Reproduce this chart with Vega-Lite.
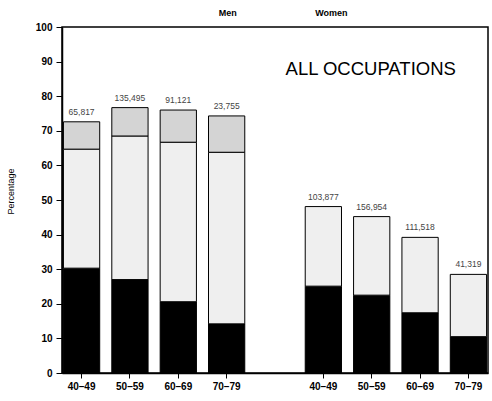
{
  "$schema": "https://vega.github.io/schema/vega-lite/v6.json",
  "autosize": "none",
  "width": 426,
  "height": 346,
  "padding": {"left": 62, "top": 27, "right": 4, "bottom": 28},
  "background": "white",
  "config": {
    "view": {"stroke": "black", "strokeWidth": 1.5}
  },
  "datasets": {
    "bars": [
      {"key": "M 40–49", "sex": "Men", "age": "40–49", "segment": "bottom", "value": 30.3},
      {"key": "M 40–49", "sex": "Men", "age": "40–49", "segment": "middle", "value": 34.4},
      {"key": "M 40–49", "sex": "Men", "age": "40–49", "segment": "top", "value": 7.9},
      {"key": "M 50–59", "sex": "Men", "age": "50–59", "segment": "bottom", "value": 27.0},
      {"key": "M 50–59", "sex": "Men", "age": "50–59", "segment": "middle", "value": 41.5},
      {"key": "M 50–59", "sex": "Men", "age": "50–59", "segment": "top", "value": 8.2},
      {"key": "M 60–69", "sex": "Men", "age": "60–69", "segment": "bottom", "value": 20.6},
      {"key": "M 60–69", "sex": "Men", "age": "60–69", "segment": "middle", "value": 46.1},
      {"key": "M 60–69", "sex": "Men", "age": "60–69", "segment": "top", "value": 9.3},
      {"key": "M 70–79", "sex": "Men", "age": "70–79", "segment": "bottom", "value": 14.2},
      {"key": "M 70–79", "sex": "Men", "age": "70–79", "segment": "middle", "value": 49.6},
      {"key": "M 70–79", "sex": "Men", "age": "70–79", "segment": "top", "value": 10.5},
      {"key": "W 40–49", "sex": "Women", "age": "40–49", "segment": "bottom", "value": 25.1},
      {"key": "W 40–49", "sex": "Women", "age": "40–49", "segment": "middle", "value": 23.0},
      {"key": "W 50–59", "sex": "Women", "age": "50–59", "segment": "bottom", "value": 22.5},
      {"key": "W 50–59", "sex": "Women", "age": "50–59", "segment": "middle", "value": 22.7},
      {"key": "W 60–69", "sex": "Women", "age": "60–69", "segment": "bottom", "value": 17.4},
      {"key": "W 60–69", "sex": "Women", "age": "60–69", "segment": "middle", "value": 21.8},
      {"key": "W 70–79", "sex": "Women", "age": "70–79", "segment": "bottom", "value": 10.5},
      {"key": "W 70–79", "sex": "Women", "age": "70–79", "segment": "middle", "value": 18.0}
    ],
    "counts": [
      {"key": "M 40–49", "n": "65,817", "total": 72.6},
      {"key": "M 50–59", "n": "135,495", "total": 76.7},
      {"key": "M 60–69", "n": "91,121", "total": 76.0},
      {"key": "M 70–79", "n": "23,755", "total": 74.3},
      {"key": "W 40–49", "n": "103,877", "total": 48.1},
      {"key": "W 50–59", "n": "156,954", "total": 45.2},
      {"key": "W 60–69", "n": "111,518", "total": 39.2},
      {"key": "W 70–79", "n": "41,319", "total": 28.5}
    ]
  },
  "layer": [
    {
      "data": {"name": "bars"},
      "mark": {"type": "bar", "stroke": "black", "strokeWidth": 1},
      "encoding": {
        "x": {
          "field": "key",
          "type": "nominal",
          "scale": {
            "domain": ["M 40–49", "M 50–59", "M 60–69", "M 70–79", "gap", "W 40–49", "W 50–59", "W 60–69", "W 70–79"],
            "paddingInner": 0.25,
            "paddingOuter": 0.03
          },
          "axis": {
            "title": null,
            "values": ["M 40–49", "M 50–59", "M 60–69", "M 70–79", "W 40–49", "W 50–59", "W 60–69", "W 70–79"],
            "labelExpr": "slice(datum.label, 2)",
            "labelAngle": 0,
            "labelFont": "Liberation Sans",
            "labelFontWeight": "bold",
            "labelFontSize": 10,
            "labelColor": "black",
            "labelPadding": 3,
            "tickColor": "black",
            "tickSize": 5,
            "domainColor": "black",
            "domainWidth": 1.5
          }
        },
        "y": {
          "field": "value",
          "type": "quantitative",
          "stack": "zero",
          "scale": {"domain": [0, 100], "nice": false},
          "axis": {
            "title": "Percentage",
            "titleFont": "Liberation Sans",
            "titleFontSize": 9,
            "titleFontWeight": "normal",
            "titleColor": "black",
            "titleX": -47,
            "titleY": 164,
            "values": [0, 10, 20, 30, 40, 50, 60, 70, 80, 90, 100],
            "tickCount": 20,
            "grid": false,
            "labelFont": "Liberation Sans",
            "labelFontWeight": "bold",
            "labelFontSize": 10,
            "labelColor": "black",
            "labelPadding": 4,
            "labelOverlap": false,
            "tickColor": "black",
            "tickSize": 6,
            "domainColor": "black",
            "domainWidth": 1.5
          }
        },
        "order": {"field": "segment", "sort": "ascending"},
        "color": {
          "field": "segment",
          "type": "nominal",
          "scale": {"domain": ["bottom", "middle", "top"], "range": ["#000000", "#efefef", "#d4d4d4"]},
          "legend": null
        }
      }
    },
    {
      "data": {"name": "counts"},
      "mark": {"type": "text", "baseline": "bottom", "dy": -5, "fontSize": 8.5, "color": "#444", "font": "Liberation Sans"},
      "encoding": {
        "x": {"field": "key", "type": "nominal"},
        "y": {"field": "total", "type": "quantitative"},
        "text": {"field": "n"}
      }
    },
    {
      "data": {"values": [{"key": "M 70–79", "label": "Men", "level": 104}]},
      "mark": {"type": "text", "fontSize": 9, "fontWeight": "bold", "font": "Liberation Sans", "color": "black", "baseline": "middle", "dx": 1},
      "encoding": {
        "x": {"field": "key", "type": "nominal"},
        "y": {"field": "level", "type": "quantitative"},
        "text": {"field": "label"}
      }
    },
    {
      "data": {"values": [{"key": "W 40–49", "label": "Women", "level": 104}]},
      "mark": {"type": "text", "fontSize": 9, "fontWeight": "bold", "font": "Liberation Sans", "color": "black", "baseline": "middle", "dx": 8},
      "encoding": {
        "x": {"field": "key", "type": "nominal"},
        "y": {"field": "level", "type": "quantitative"},
        "text": {"field": "label"}
      }
    },
    {
      "data": {"values": [{"key": "W 50–59", "label": "ALL OCCUPATIONS", "level": 87.9}]},
      "mark": {"type": "text", "fontSize": 18.5, "font": "Liberation Sans", "color": "black", "baseline": "middle", "dx": -1},
      "encoding": {
        "x": {"field": "key", "type": "nominal"},
        "y": {"field": "level", "type": "quantitative"},
        "text": {"field": "label"}
      }
    }
  ]
}
